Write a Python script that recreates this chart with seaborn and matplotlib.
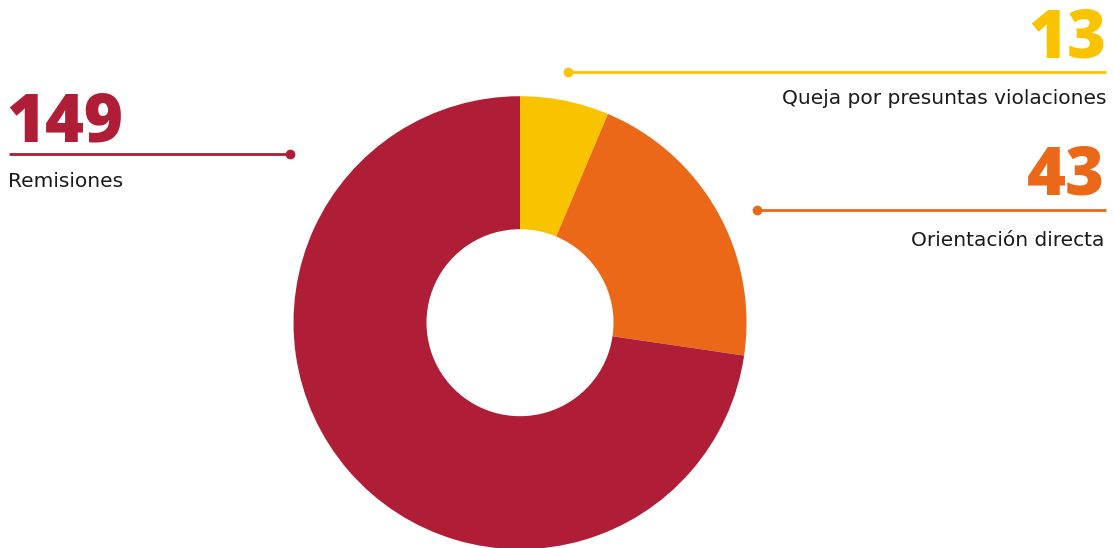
import matplotlib
matplotlib.use("Agg")
import matplotlib.pyplot as plt
import seaborn as sns

categories = ["Queja por presuntas violaciones", "Orientación directa", "Remisiones"]
values = [13, 43, 149]
value_labels = ["13", "43", "149"]
colors = ["#F9C300", "#EB6819", "#AF1E36"]

sns.set_theme(style="white")
plt.rcParams['font.family'] = ['DejaVu Sans']

W, H = 1114, 548
fig = plt.figure(figsize=(W / 100, H / 100), dpi=100)
ax = fig.add_axes([0, 0, 1, 1])

def py(y):
    return H - y

ax.pie(values, colors=colors, startangle=90, counterclock=False,
       center=(520, py(322.7)), radius=226.5, frame=True,
       wedgeprops=dict(width=133, edgecolor="none", linewidth=0))

ax.set_xlim(0, W)
ax.set_ylim(0, H)
ax.set_aspect("equal")
ax.axis("off")

num_font = dict(fontweight=800, fontsize=48, family=["Open Sans", "DejaVu Sans"])
lab_font = dict(fontsize=14.5, color="#1a1a1a", family=["DejaVu Sans"])

# Remisiones (left)
ax.text(6, py(141.7), value_labels[2], color=colors[2], ha="left", va="baseline", **num_font)
ax.plot([9, 290], [py(154), py(154)], color=colors[2], lw=2, solid_capstyle="butt")
ax.plot([290], [py(154)], "o", color=colors[2], ms=7, mew=0)
ax.text(8, py(187), categories[2], ha="left", va="baseline", **lab_font)

# Queja (right top)
ax.text(1106, py(57.3), value_labels[0], color=colors[0], ha="right", va="baseline", **num_font)
ax.plot([568, 1106], [py(72), py(72)], color=colors[0], lw=2, solid_capstyle="butt")
ax.plot([568], [py(72)], "o", color=colors[0], ms=7, mew=0)
ax.text(1106, py(104), categories[0], ha="right", va="baseline", **lab_font)

# Orientación (right middle)
ax.text(1105, py(194.3), value_labels[1], color=colors[1], ha="right", va="baseline", **num_font)
ax.plot([757, 1106], [py(210), py(210)], color=colors[1], lw=2, solid_capstyle="butt")
ax.plot([757], [py(210)], "o", color=colors[1], ms=7, mew=0)
ax.text(1104, py(245.5), categories[1], ha="right", va="baseline", **lab_font)

fig.savefig("out.png", dpi=100, facecolor="white")
